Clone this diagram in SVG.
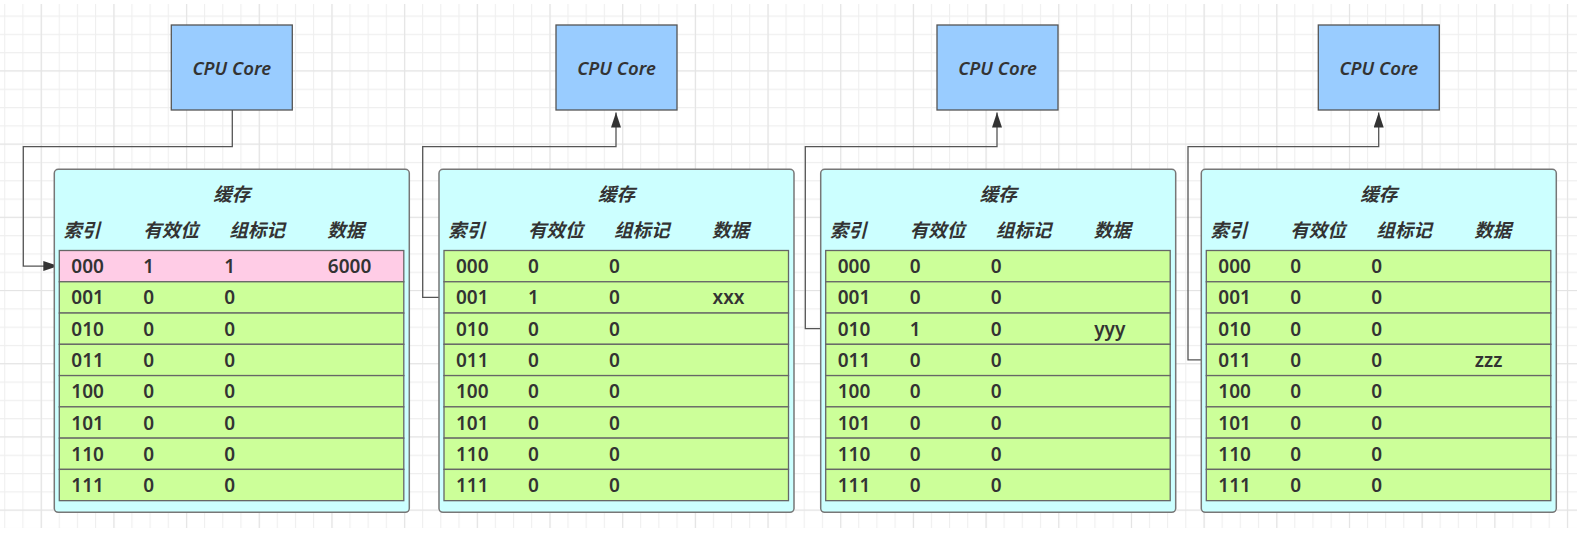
<svg xmlns="http://www.w3.org/2000/svg" width="1594" height="546" viewBox="0 0 1594 546">
<style>
.cpu{fill:#99CCFF;stroke:#555;stroke-width:1.3}
.cache{fill:#CCFFFF;stroke:#777;stroke-width:1.5}
.row{fill:#CCFF99;stroke:#666;stroke-width:1.3}
.hit{fill:#FFCCE6}
.t{font-family:"Noto Sans","Noto Sans CJK SC",sans-serif;font-size:19px;font-weight:600;fill:#333}
.i{font-style:italic;font-size:18.5px}
.c{text-anchor:middle}
.conn{fill:none;stroke:#555;stroke-width:1.3}
</style>
<defs>
<pattern id="g1" x="4.2" y="15.5" width="18.17" height="18.3" patternUnits="userSpaceOnUse"><path d="M0.5 0V18.3M0 0.5H18.17" stroke="#efefef" stroke-width="1.2" fill="none"/></pattern>
<pattern id="g2" x="40.8" y="70.4" width="72.68" height="73.2" patternUnits="userSpaceOnUse"><path d="M0.5 0V73.2M0 0.5H72.68" stroke="#e4e4e4" stroke-width="1.2" fill="none"/></pattern>
<marker id="arr" markerUnits="userSpaceOnUse" markerWidth="16" markerHeight="11" refX="15" refY="5" orient="auto"><path d="M0 0L15 5L0 10z" fill="#333"/></marker>
</defs>
<rect width="1594" height="546" fill="#fff"/>
<rect x="0" y="4" width="1577" height="524" fill="url(#g1)"/>
<rect x="0" y="4" width="1577" height="524" fill="url(#g2)"/>

<g id="connectors">
<path class="conn" d="M232.3 110V146.7H23.3V266.1H58.3" marker-end="url(#arr)"/>
<path class="conn" d="M443.5 297.4H422.7V146.7H616V112.5" marker-end="url(#arr)"/>
<path class="conn" d="M825.5 328.6H805.3V146.7H997V112.5" marker-end="url(#arr)"/>
<path class="conn" d="M1206.3 359.9H1188V146.7H1378.7V112.5" marker-end="url(#arr)"/>
</g>

<g id="cpu1"><rect class="cpu" x="171.3" y="25" width="121" height="85"/><text class="t i c" x="231.8" y="74.5">CPU Core</text></g>
<g id="cpu2"><rect class="cpu" x="556" y="25" width="121" height="85"/><text class="t i c" x="616.5" y="74.5">CPU Core</text></g>
<g id="cpu3"><rect class="cpu" x="937" y="25" width="121" height="85"/><text class="t i c" x="997.5" y="74.5">CPU Core</text></g>
<g id="cpu4"><rect class="cpu" x="1318.3" y="25" width="121" height="85"/><text class="t i c" x="1378.8" y="74.5">CPU Core</text></g>

<g id="cache1" transform="translate(54.3,0)">
<rect class="cache" x="0" y="169.3" width="355" height="343" rx="4"/>
<text class="t i c" x="177.5" y="201">缓存</text>
<text class="t i" x="9" y="236.5">索引</text><text class="t i" x="89" y="236.5">有效位</text><text class="t i" x="175" y="236.5">组标记</text><text class="t i" x="273" y="236.5">数据</text>
<rect class="row hit" x="5" y="250.5" width="344.5" height="31.27"/>
<rect class="row" x="5" y="281.77" width="344.5" height="31.27"/>
<rect class="row" x="5" y="313.04" width="344.5" height="31.27"/>
<rect class="row" x="5" y="344.31" width="344.5" height="31.27"/>
<rect class="row" x="5" y="375.58" width="344.5" height="31.27"/>
<rect class="row" x="5" y="406.85" width="344.5" height="31.27"/>
<rect class="row" x="5" y="438.12" width="344.5" height="31.27"/>
<rect class="row" x="5" y="469.39" width="344.5" height="31.27"/>
<text class="t" x="17" y="273.1">000</text><text class="t" x="89" y="273.1">1</text><text class="t" x="170" y="273.1">1</text><text class="t" x="273.5" y="273.1">6000</text>
<text class="t" x="17" y="304.4">001</text><text class="t" x="89" y="304.4">0</text><text class="t" x="170" y="304.4">0</text>
<text class="t" x="17" y="335.6">010</text><text class="t" x="89" y="335.6">0</text><text class="t" x="170" y="335.6">0</text>
<text class="t" x="17" y="366.9">011</text><text class="t" x="89" y="366.9">0</text><text class="t" x="170" y="366.9">0</text>
<text class="t" x="17" y="398.2">100</text><text class="t" x="89" y="398.2">0</text><text class="t" x="170" y="398.2">0</text>
<text class="t" x="17" y="429.5">101</text><text class="t" x="89" y="429.5">0</text><text class="t" x="170" y="429.5">0</text>
<text class="t" x="17" y="460.7">110</text><text class="t" x="89" y="460.7">0</text><text class="t" x="170" y="460.7">0</text>
<text class="t" x="17" y="492">111</text><text class="t" x="89" y="492">0</text><text class="t" x="170" y="492">0</text>
</g>

<g id="cache2" transform="translate(439,0)">
<rect class="cache" x="0" y="169.3" width="355" height="343" rx="4"/>
<text class="t i c" x="177.5" y="201">缓存</text>
<text class="t i" x="9" y="236.5">索引</text><text class="t i" x="89" y="236.5">有效位</text><text class="t i" x="175" y="236.5">组标记</text><text class="t i" x="273" y="236.5">数据</text>
<rect class="row" x="5" y="250.5" width="344.5" height="31.27"/>
<rect class="row" x="5" y="281.77" width="344.5" height="31.27"/>
<rect class="row" x="5" y="313.04" width="344.5" height="31.27"/>
<rect class="row" x="5" y="344.31" width="344.5" height="31.27"/>
<rect class="row" x="5" y="375.58" width="344.5" height="31.27"/>
<rect class="row" x="5" y="406.85" width="344.5" height="31.27"/>
<rect class="row" x="5" y="438.12" width="344.5" height="31.27"/>
<rect class="row" x="5" y="469.39" width="344.5" height="31.27"/>
<text class="t" x="17" y="273.1">000</text><text class="t" x="89" y="273.1">0</text><text class="t" x="170" y="273.1">0</text>
<text class="t" x="17" y="304.4">001</text><text class="t" x="89" y="304.4">1</text><text class="t" x="170" y="304.4">0</text><text class="t" x="273.5" y="304.4">xxx</text>
<text class="t" x="17" y="335.6">010</text><text class="t" x="89" y="335.6">0</text><text class="t" x="170" y="335.6">0</text>
<text class="t" x="17" y="366.9">011</text><text class="t" x="89" y="366.9">0</text><text class="t" x="170" y="366.9">0</text>
<text class="t" x="17" y="398.2">100</text><text class="t" x="89" y="398.2">0</text><text class="t" x="170" y="398.2">0</text>
<text class="t" x="17" y="429.5">101</text><text class="t" x="89" y="429.5">0</text><text class="t" x="170" y="429.5">0</text>
<text class="t" x="17" y="460.7">110</text><text class="t" x="89" y="460.7">0</text><text class="t" x="170" y="460.7">0</text>
<text class="t" x="17" y="492">111</text><text class="t" x="89" y="492">0</text><text class="t" x="170" y="492">0</text>
</g>

<g id="cache3" transform="translate(820.7,0)">
<rect class="cache" x="0" y="169.3" width="355" height="343" rx="4"/>
<text class="t i c" x="177.5" y="201">缓存</text>
<text class="t i" x="9" y="236.5">索引</text><text class="t i" x="89" y="236.5">有效位</text><text class="t i" x="175" y="236.5">组标记</text><text class="t i" x="273" y="236.5">数据</text>
<rect class="row" x="5" y="250.5" width="344.5" height="31.27"/>
<rect class="row" x="5" y="281.77" width="344.5" height="31.27"/>
<rect class="row" x="5" y="313.04" width="344.5" height="31.27"/>
<rect class="row" x="5" y="344.31" width="344.5" height="31.27"/>
<rect class="row" x="5" y="375.58" width="344.5" height="31.27"/>
<rect class="row" x="5" y="406.85" width="344.5" height="31.27"/>
<rect class="row" x="5" y="438.12" width="344.5" height="31.27"/>
<rect class="row" x="5" y="469.39" width="344.5" height="31.27"/>
<text class="t" x="17" y="273.1">000</text><text class="t" x="89" y="273.1">0</text><text class="t" x="170" y="273.1">0</text>
<text class="t" x="17" y="304.4">001</text><text class="t" x="89" y="304.4">0</text><text class="t" x="170" y="304.4">0</text>
<text class="t" x="17" y="335.6">010</text><text class="t" x="89" y="335.6">1</text><text class="t" x="170" y="335.6">0</text><text class="t" x="273.5" y="335.6">yyy</text>
<text class="t" x="17" y="366.9">011</text><text class="t" x="89" y="366.9">0</text><text class="t" x="170" y="366.9">0</text>
<text class="t" x="17" y="398.2">100</text><text class="t" x="89" y="398.2">0</text><text class="t" x="170" y="398.2">0</text>
<text class="t" x="17" y="429.5">101</text><text class="t" x="89" y="429.5">0</text><text class="t" x="170" y="429.5">0</text>
<text class="t" x="17" y="460.7">110</text><text class="t" x="89" y="460.7">0</text><text class="t" x="170" y="460.7">0</text>
<text class="t" x="17" y="492">111</text><text class="t" x="89" y="492">0</text><text class="t" x="170" y="492">0</text>
</g>

<g id="cache4" transform="translate(1201.3,0)">
<rect class="cache" x="0" y="169.3" width="355" height="343" rx="4"/>
<text class="t i c" x="177.5" y="201">缓存</text>
<text class="t i" x="9" y="236.5">索引</text><text class="t i" x="89" y="236.5">有效位</text><text class="t i" x="175" y="236.5">组标记</text><text class="t i" x="273" y="236.5">数据</text>
<rect class="row" x="5" y="250.5" width="344.5" height="31.27"/>
<rect class="row" x="5" y="281.77" width="344.5" height="31.27"/>
<rect class="row" x="5" y="313.04" width="344.5" height="31.27"/>
<rect class="row" x="5" y="344.31" width="344.5" height="31.27"/>
<rect class="row" x="5" y="375.58" width="344.5" height="31.27"/>
<rect class="row" x="5" y="406.85" width="344.5" height="31.27"/>
<rect class="row" x="5" y="438.12" width="344.5" height="31.27"/>
<rect class="row" x="5" y="469.39" width="344.5" height="31.27"/>
<text class="t" x="17" y="273.1">000</text><text class="t" x="89" y="273.1">0</text><text class="t" x="170" y="273.1">0</text>
<text class="t" x="17" y="304.4">001</text><text class="t" x="89" y="304.4">0</text><text class="t" x="170" y="304.4">0</text>
<text class="t" x="17" y="335.6">010</text><text class="t" x="89" y="335.6">0</text><text class="t" x="170" y="335.6">0</text>
<text class="t" x="17" y="366.9">011</text><text class="t" x="89" y="366.9">0</text><text class="t" x="170" y="366.9">0</text><text class="t" x="273.5" y="366.9">zzz</text>
<text class="t" x="17" y="398.2">100</text><text class="t" x="89" y="398.2">0</text><text class="t" x="170" y="398.2">0</text>
<text class="t" x="17" y="429.5">101</text><text class="t" x="89" y="429.5">0</text><text class="t" x="170" y="429.5">0</text>
<text class="t" x="17" y="460.7">110</text><text class="t" x="89" y="460.7">0</text><text class="t" x="170" y="460.7">0</text>
<text class="t" x="17" y="492">111</text><text class="t" x="89" y="492">0</text><text class="t" x="170" y="492">0</text>
</g>
</svg>
